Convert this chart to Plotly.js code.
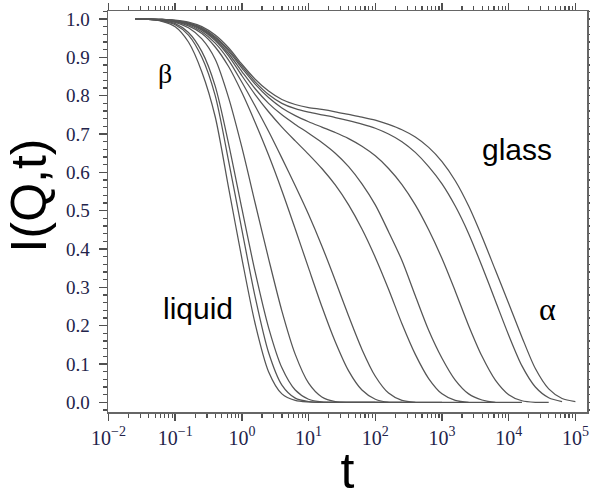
<!DOCTYPE html>
<html>
<head>
<meta charset="utf-8">
<script src="https://cdn.plot.ly/plotly-3.0.1.min.js"></script>
<style>
  html, body { margin: 0; padding: 0; background: #ffffff; }
  #chart { width: 590px; height: 499px; }
</style>
</head>
<body>
<div id="chart"></div>
<script>
// Time grid (0.2-decade steps from 10^-1.6 to 10^5)
const tGrid = [0.0251, 0.0398, 0.0631, 0.1, 0.158, 0.251, 0.398, 0.631,
  1, 1.58, 2.51, 3.98, 6.31, 10, 15.8, 25.1, 39.8, 63.1,
  100, 158, 251, 398, 631, 1000, 1580, 2510, 3980, 6310,
  10000, 15800, 25100, 39800, 63100, 100000];

// Intermediate scattering function I(Q,t), one array per state point,
// from the most fluid (liquid) to the most arrested (glass).
const curveK = [1.000, 0.999, 0.994, 0.980, 0.940, 0.862, 0.745, 0.560, 0.375, 0.205,
  0.080, 0.022, 0.005, 0.001, 0.000, 0, 0, 0, 0];
const curveJ = [1.000, 0.999, 0.995, 0.985, 0.958, 0.900, 0.800, 0.630, 0.450, 0.275,
  0.130, 0.045, 0.011, 0.002, 0.000, 0, 0, 0, 0, 0];
const curveI = [1.000, 0.999, 0.996, 0.988, 0.965, 0.915, 0.825, 0.675, 0.505, 0.340,
  0.195, 0.090, 0.032, 0.008, 0.001, 0.000, 0, 0, 0, 0, 0];
const curveH = [1.000, 0.999, 0.997, 0.991, 0.977, 0.948, 0.895, 0.795, 0.665, 0.520,
  0.375, 0.238, 0.125, 0.050, 0.014, 0.002, 0.000, 0, 0, 0, 0, 0];
const curveG = [1.000, 1.000, 0.998, 0.993, 0.982, 0.962, 0.927, 0.876, 0.808, 0.730,
  0.645, 0.552, 0.452, 0.350, 0.250, 0.158, 0.082, 0.032, 0.008, 0.000, 0, 0, 0, 0];
const curveF = [1.000, 1.000, 0.998, 0.994, 0.985, 0.967, 0.937, 0.893, 0.835, 0.773,
  0.707, 0.637, 0.565, 0.490, 0.408, 0.318, 0.225, 0.138, 0.068, 0.024,
  0.005, 0.000, 0, 0, 0, 0];
const curveE = [1.000, 1.000, 0.998, 0.995, 0.987, 0.971, 0.944, 0.904, 0.852, 0.803,
  0.758, 0.718, 0.682, 0.647, 0.610, 0.567, 0.515, 0.452, 0.378, 0.295,
  0.205, 0.125, 0.062, 0.022, 0.005, 0.000, 0, 0];
const curveD = [1.000, 1.000, 0.999, 0.995, 0.988, 0.973, 0.948, 0.910, 0.863, 0.818,
  0.780, 0.750, 0.725, 0.702, 0.678, 0.650, 0.615, 0.570, 0.515, 0.445,
  0.370, 0.278, 0.188, 0.115, 0.058, 0.022, 0.006, 0.000, 0, 0];
const curveC = [1.000, 1.000, 0.999, 0.996, 0.989, 0.975, 0.951, 0.916, 0.872, 0.830,
  0.795, 0.768, 0.748, 0.732, 0.718, 0.704, 0.688, 0.668, 0.643, 0.610,
  0.568, 0.515, 0.450, 0.375, 0.290, 0.200, 0.120, 0.058, 0.020, 0.004,
  0.000, 0];
const curveB = [1.000, 1.000, 0.999, 0.996, 0.990, 0.977, 0.954, 0.920, 0.877, 0.836,
  0.803, 0.780, 0.766, 0.757, 0.750, 0.743, 0.735, 0.726, 0.715, 0.700,
  0.680, 0.652, 0.615, 0.570, 0.512, 0.440, 0.355, 0.265, 0.175, 0.095,
  0.040, 0.012, 0.002];
const curveA = [1.000, 1.000, 0.999, 0.997, 0.992, 0.980, 0.958, 0.925, 0.882, 0.843,
  0.812, 0.790, 0.777, 0.769, 0.764, 0.758, 0.751, 0.744, 0.736, 0.725,
  0.711, 0.692, 0.665, 0.628, 0.578, 0.512, 0.432, 0.345, 0.258, 0.170,
  0.088, 0.035, 0.010, 0.002];

const curves = [curveK, curveJ, curveI, curveH, curveG, curveF, curveE, curveD, curveC, curveB, curveA];

// Axis tick labels
const xTickVals = [0.01, 0.1, 1, 10, 100, 1000, 10000, 100000];
const xTickText = ['10<sup>\u22122</sup>', '10<sup>\u22121</sup>', '10<sup>0</sup>', '10<sup>1</sup>',
  '10<sup>2</sup>', '10<sup>3</sup>', '10<sup>4</sup>', '10<sup>5</sup>'];
const yTickVals = [0.0, 0.1, 0.2, 0.3, 0.4, 0.5, 0.6, 0.7, 0.8, 0.9, 1.0];
const yTickText = ['0.0', '0.1', '0.2', '0.3', '0.4', '0.5', '0.6', '0.7', '0.8', '0.9', '1.0'];

const traces = curves.map(vals => ({
  x: tGrid.slice(0, vals.length),
  y: vals,
  type: 'scatter',
  mode: 'lines',
  line: { color: '#555555', width: 1.25, shape: 'spline', smoothing: 0.8 },
  hoverinfo: 'skip',
  showlegend: false
}));

const frameColor = '#666666';
const tickColor = '#505050';
const serif = 'Liberation Serif, Times New Roman, serif';
const sans = 'Liberation Sans, Arial, sans-serif';

const layout = {
  width: 590,
  height: 499,
  margin: { l: 108, r: 3, t: 11, b: 87 },
  paper_bgcolor: '#ffffff',
  plot_bgcolor: '#ffffff',
  showlegend: false,
  xaxis: {
    type: 'log',
    range: [-2.0075, 5.174],
    tickmode: 'array',
    tickvals: xTickVals,
    ticktext: xTickText,
    ticks: 'outside',
    ticklen: 7,
    tickwidth: 1.5,
    tickcolor: tickColor,
    minor: { ticks: 'outside', ticklen: 4, tickwidth: 1.2, tickcolor: tickColor, dtick: 'D1', showgrid: false },
    showline: true,
    linecolor: frameColor,
    linewidth: 1.5,
    mirror: 'allticks',
    showgrid: false,
    zeroline: false,
    tickfont: { family: serif, size: 20, color: '#23234a' },
    title: { text: 't', font: { family: sans, size: 50, color: '#000000' }, standoff: 6 }
  },
  yaxis: {
    range: [-0.0253, 1.0209],
    tickmode: 'array',
    tickvals: yTickVals,
    ticktext: yTickText,
    ticks: 'outside',
    ticklen: 8,
    tickwidth: 1.5,
    tickcolor: tickColor,
    ticklabelstandoff: 5,
    minor: { ticks: 'outside', ticklen: 4, tickwidth: 1.2, tickcolor: tickColor, tickmode: 'linear', tick0: 0, dtick: 0.02, showgrid: false },
    showline: true,
    linecolor: frameColor,
    linewidth: 1.5,
    mirror: 'allticks',
    showgrid: false,
    zeroline: false,
    tickfont: { family: serif, size: 19, color: '#23234a' }
  },
  annotations: [
    { text: 'I(Q,t)', xref: 'paper', yref: 'paper', x: -0.163, y: 0.540, textangle: -90,
      showarrow: false, xanchor: 'center', yanchor: 'middle',
      font: { family: sans, size: 50, color: '#000000' } },
    { text: '\u03b2', xref: 'paper', yref: 'paper', x: 0.119, y: 0.845,
      showarrow: false, xanchor: 'center', yanchor: 'middle',
      font: { family: serif, size: 28, color: '#000000' } },
    { text: 'glass', xref: 'paper', yref: 'paper', x: 0.854, y: 0.655,
      showarrow: false, xanchor: 'center', yanchor: 'middle',
      font: { family: sans, size: 30, color: '#000000' } },
    { text: 'liquid', xref: 'paper', yref: 'paper', x: 0.188, y: 0.257,
      showarrow: false, xanchor: 'center', yanchor: 'middle',
      font: { family: sans, size: 30, color: '#000000' } },
    { text: '\u03b1', xref: 'paper', yref: 'paper', x: 0.9165, y: 0.256,
      showarrow: false, xanchor: 'center', yanchor: 'middle',
      font: { family: serif, size: 32, color: '#000000' } }
  ]
};

Plotly.newPlot('chart', traces, layout, { staticPlot: true, displayModeBar: false });
</script>
</body>
</html>
